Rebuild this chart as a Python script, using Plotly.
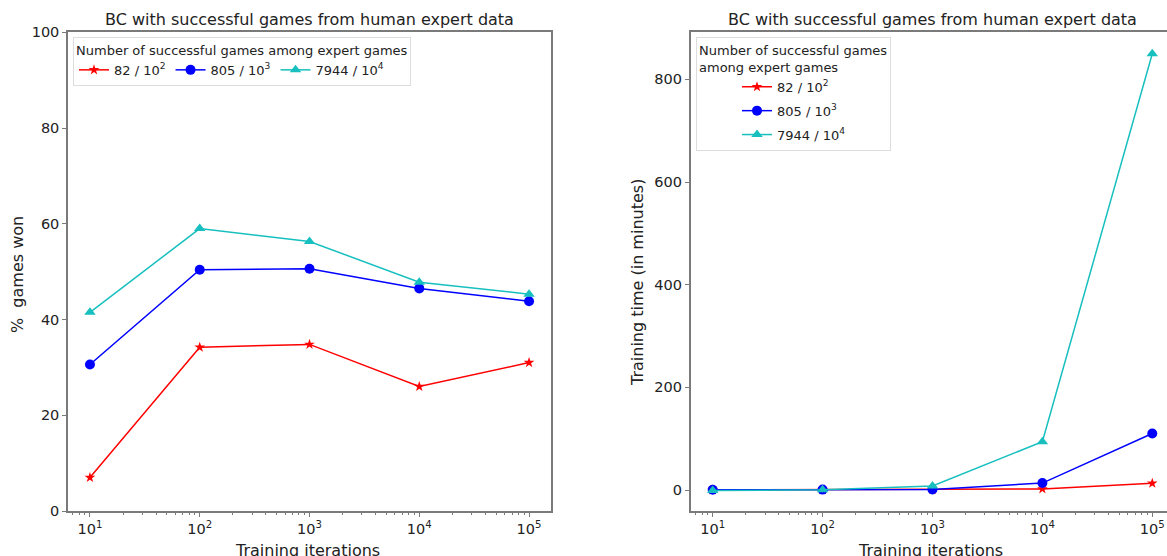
import plotly.graph_objects as go

iterations = [10, 100, 1000, 10000, 100000]
tick_vals = [10, 100, 1000, 10000, 100000]
tick_text = ["10<sup>1</sup>", "10<sup>2</sup>", "10<sup>3</sup>", "10<sup>4</sup>", "10<sup>5</sup>"]

series_names = ["82 / 10<sup>2</sup>", "805 / 10<sup>3</sup>", "7944 / 10<sup>4</sup>"]

won_82 = [7.0, 34.2, 34.8, 26.0, 31.0]
won_805 = [30.6, 50.4, 50.6, 46.5, 43.8]
won_7944 = [41.5, 59.0, 56.3, 47.8, 45.3]

time_82 = [0.3, 0.5, 0.5, 2.0, 13.0]
time_805 = [0.5, 0.8, 1.0, 13.5, 110.0]
time_7944 = [-1.0, 0.5, 8.0, 94.0, 850.0]

colors = ["#ff0000", "#0000ff", "#17bfbf"]
symbols = ["star", "circle", "triangle-up"]
msizes = [8, 10, 10]

W, H = 1167, 556
FONT = "DejaVu Sans"
frame = "#7a7a7a"
txt = "#222222"


def px(x):
    return x / W


def py(y):
    return 1 - y / H


fig = go.Figure()

left_sets = [won_82, won_805, won_7944]
right_sets = [time_82, time_805, time_7944]

for i in range(3):
    fig.add_trace(go.Scatter(
        x=iterations, y=left_sets[i], mode="lines+markers", name=series_names[i],
        line=dict(color=colors[i], width=1.5),
        marker=dict(symbol=symbols[i], size=msizes[i], color=colors[i]),
        xaxis="x", yaxis="y", legend="legend"))
for i in range(3):
    fig.add_trace(go.Scatter(
        x=iterations, y=right_sets[i], mode="lines+markers", name=series_names[i],
        line=dict(color=colors[i], width=1.5),
        marker=dict(symbol=symbols[i], size=msizes[i], color=colors[i]),
        xaxis="x2", yaxis="y2", legend="legend2", legendgroup="r%d" % i))

minor_vals = [m * 10 ** d for d in range(0, 6) for m in range(2, 10)]


def xaxis(domain, rng, anchor):
    return dict(
        domain=domain, type="log", range=rng, anchor=anchor, automargin=False,
        tickvals=tick_vals, ticktext=tick_text, ticks="outside", ticklen=4,
        tickcolor=frame, tickfont=dict(size=14.5, color=txt, family=FONT),
        showline=True, linecolor=frame, linewidth=1.5, mirror=True,
        showgrid=False, zeroline=False,
        minor=dict(tickvals=minor_vals, ticks="outside", ticklen=2, tickcolor=frame, showgrid=False),
    )


def yaxis(domain, rng, anchor, tv, mirror):
    return dict(
        domain=domain, range=rng, anchor=anchor, tickvals=tv, automargin=False,
        ticks="outside", ticklen=4, tickcolor=frame,
        tickfont=dict(size=14.5, color=txt, family=FONT),
        showline=True, linecolor=frame, linewidth=1.5, mirror=mirror,
        showgrid=False, zeroline=False,
    )


ydom = [py(511), py(32.3)]
legfont = dict(size=13, family=FONT, color=txt)
titlefont = dict(size=16, family=FONT, color=txt)
labfont = dict(size=16, family=FONT, color=txt)

annotations = []
for cx in [(68 + 551) / 2, (690.7 + 1174) / 2]:
    annotations.append(dict(text="BC with successful games from human expert data", xref="paper", yref="paper",
                            x=px(cx), y=py(19.5), xanchor="center", yanchor="middle", showarrow=False,
                            font=titlefont))
    annotations.append(dict(text="Training iterations", xref="paper", yref="paper",
                            x=px(cx - 2), y=py(550), xanchor="center", yanchor="middle", showarrow=False,
                            font=labfont))
annotations.append(dict(text="%&nbsp; games won", xref="paper", yref="paper", textangle=-90,
                        x=px(17), y=py(275), xanchor="center", yanchor="middle", showarrow=False,
                        font=labfont))
annotations.append(dict(text="Training time (in minutes)", xref="paper", yref="paper", textangle=-90,
                        x=px(637), y=py(283), xanchor="center", yanchor="middle", showarrow=False,
                        font=labfont))

fig.update_layout(
    width=W, height=H,
    margin=dict(l=0, r=0, t=0, b=0, autoexpand=False),
    paper_bgcolor="white", plot_bgcolor="white",
    font=dict(family=FONT, color=txt),
    xaxis=xaxis([px(68), px(551)], [0.8, 5.2], "y"),
    yaxis=yaxis(ydom, [0, 100], "x", [0, 20, 40, 60, 80, 100], True),
    xaxis2=xaxis([px(690.7), 1.0], [0.8, 5.134], "y2"),
    yaxis2=yaxis(ydom, [-40.9, 891.7], "x2", [0, 200, 400, 600, 800], False),
    legend=dict(
        x=px(73), y=py(37), xanchor="left", yanchor="top",
        orientation="h", bgcolor="rgba(255,255,255,0.9)", bordercolor="#dddddd", borderwidth=1,
        font=legfont,
        title=dict(text="Number of successful games among expert games", side="top", font=legfont),
        tracegroupgap=0,
    ),
    legend2=dict(
        x=px(696), y=py(37), xanchor="left", yanchor="top",
        orientation="v", bgcolor="rgba(255,255,255,0.9)", bordercolor="#dddddd", borderwidth=1,
        font=legfont,
        title=dict(text="Number of successful games<br>among expert games", side="top", font=legfont),
        indentation=40, tracegroupgap=4,
    ),
    annotations=annotations,
)

fig.write_html(
    "out.html",
    config={"displayModeBar": False},
    post_script="document.body.style.margin='0px';document.body.style.overflow='hidden';",
)
